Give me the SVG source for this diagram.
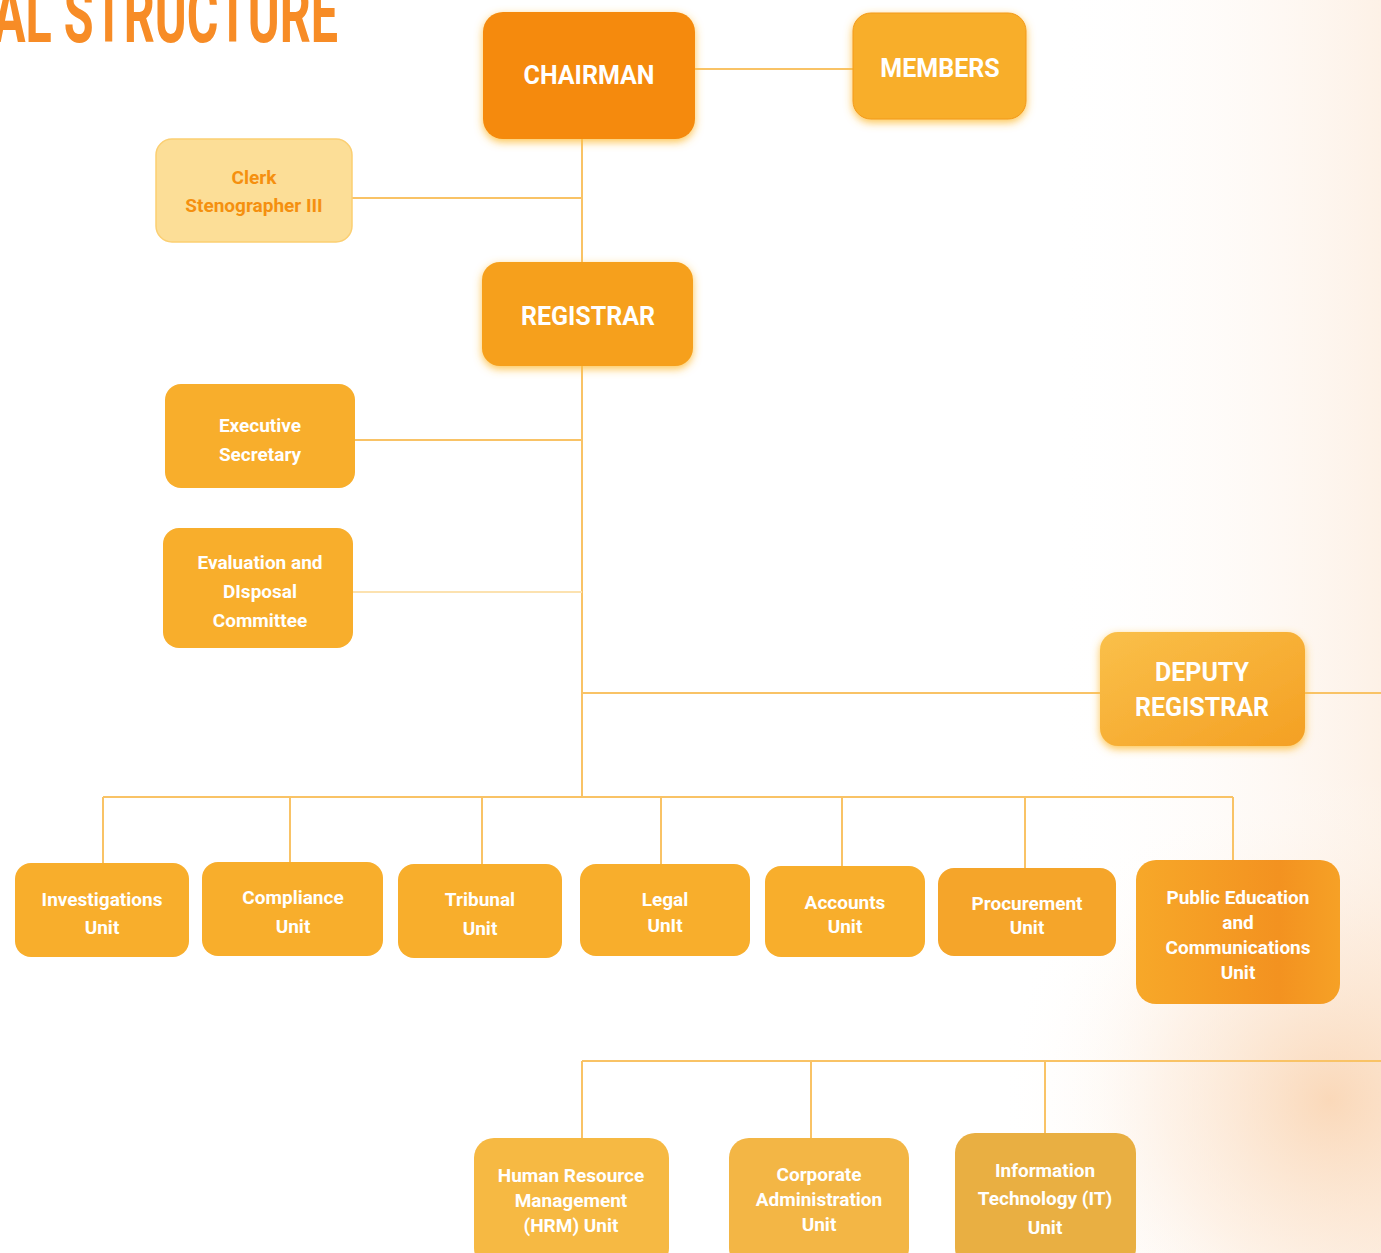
<svg xmlns="http://www.w3.org/2000/svg" width="1381" height="1253" viewBox="0 0 1381 1253">
<defs>
  <radialGradient id="bgA" cx="1330" cy="1100" r="330" gradientUnits="userSpaceOnUse">
    <stop offset="0" stop-color="#F9CFA8" stop-opacity="0.75"/>
    <stop offset="0.5" stop-color="#FCE5D0" stop-opacity="0.45"/>
    <stop offset="1" stop-color="#FFFFFF" stop-opacity="0"/>
  </radialGradient>
  <linearGradient id="bgB" x1="1050" y1="0" x2="1381" y2="0" gradientUnits="userSpaceOnUse">
    <stop offset="0" stop-color="#FFFFFF" stop-opacity="0"/>
    <stop offset="1" stop-color="#FCEBDC" stop-opacity="0.7"/>
  </linearGradient>
  <linearGradient id="depGrad" x1="0" y1="0" x2="1" y2="1">
    <stop offset="0" stop-color="#FAC04A"/>
    <stop offset="1" stop-color="#F4A023"/>
  </linearGradient>
  <linearGradient id="pubGrad" x1="0" y1="0" x2="1" y2="0">
    <stop offset="0" stop-color="#F7A829"/>
    <stop offset="0.7" stop-color="#F39220"/>
    <stop offset="1" stop-color="#F6A126"/>
  </linearGradient>
  <filter id="glow" x="-20%" y="-20%" width="140%" height="150%">
    <feGaussianBlur in="SourceAlpha" stdDeviation="4"/>
    <feOffset dx="0" dy="3" result="b"/>
    <feFlood flood-color="#FDBE3C" flood-opacity="0.9"/>
    <feComposite in2="b" operator="in" result="g"/>
    <feMerge><feMergeNode in="g"/><feMergeNode in="SourceGraphic"/></feMerge>
  </filter>
  <style>
    .ln { stroke:#F9C366; stroke-width:2; fill:none; }
    .lnf { stroke:#FCE2B0; stroke-width:2; fill:none; }
    .box { fill:#F8AE2C; }
    .t { font-family:"Liberation Sans Narrow","Roboto","Liberation Sans",sans-serif; font-weight:bold; fill:#FFFFFF; text-anchor:middle; }
    .big { font-size:25px; }
    .sm { font-size:19px; }
  </style>
</defs>

<rect x="0" y="0" width="1381" height="1253" fill="#FFFFFF"/>
<rect x="1050" y="0" width="331" height="1253" fill="url(#bgB)"/>
<rect x="900" y="760" width="481" height="493" fill="url(#bgA)"/>

<text x="338" y="42" textLength="345" lengthAdjust="spacingAndGlyphs" text-anchor="end" font-family="Roboto, 'Liberation Sans', sans-serif" font-weight="bold" font-size="80" fill="#F78C26">AL STRUCTURE</text>

<g id="connectors">
  <line class="ln" x1="695" y1="69" x2="853" y2="69"/>
  <line class="ln" x1="582" y1="139" x2="582" y2="262"/>
  <line class="ln" x1="352" y1="198" x2="582" y2="198"/>
  <line class="ln" x1="582" y1="366" x2="582" y2="797"/>
  <line class="ln" x1="355" y1="440" x2="582" y2="440"/>
  <line class="lnf" x1="353" y1="592" x2="582" y2="592"/>
  <line class="ln" x1="582" y1="693" x2="1100" y2="693"/>
  <line class="ln" x1="1305" y1="693" x2="1381" y2="693"/>
  <line class="ln" x1="103" y1="797" x2="1233" y2="797"/>
  <line class="ln" x1="103" y1="797" x2="103" y2="864"/>
  <line class="ln" x1="290" y1="797" x2="290" y2="862"/>
  <line class="ln" x1="482" y1="797" x2="482" y2="864"/>
  <line class="ln" x1="661" y1="797" x2="661" y2="865"/>
  <line class="ln" x1="842" y1="797" x2="842" y2="867"/>
  <line class="ln" x1="1025" y1="797" x2="1025" y2="868"/>
  <line class="ln" x1="1233" y1="797" x2="1233" y2="861"/>
  <line class="ln" x1="582" y1="1061" x2="1381" y2="1061"/>
  <line class="ln" x1="582" y1="1061" x2="582" y2="1138"/>
  <line class="ln" x1="811" y1="1061" x2="811" y2="1138"/>
  <line class="ln" x1="1045" y1="1061" x2="1045" y2="1133"/>
</g>

<g id="chairman">
  <rect x="483" y="12" width="212" height="127" rx="20" fill="#F58A07" filter="url(#glow)"/>
  <text class="t big" x="589" y="84">CHAIRMAN</text>
</g>
<g id="members">
  <rect x="853" y="13" width="173" height="106" rx="18" fill="#F8AE2C" stroke="#F39A1A" stroke-width="1" filter="url(#glow)"/>
  <text class="t big" x="940" y="77">MEMBERS</text>
</g>
<g id="clerk">
  <rect x="156" y="139" width="196" height="103" rx="16" fill="#FCDE97" stroke="#FBCF72" stroke-width="1.5"/>
  <text class="t sm" x="254" y="184" style="fill:#F5900F">Clerk</text>
  <text class="t sm" x="254" y="212" style="fill:#F5900F">Stenographer III</text>
</g>
<g id="registrar">
  <rect x="482" y="262" width="211" height="104" rx="18" fill="#F6A01A" filter="url(#glow)"/>
  <text class="t big" x="588" y="325">REGISTRAR</text>
</g>
<g id="executive-secretary">
  <rect x="165" y="384" width="190" height="104" rx="16" class="box"/>
  <text class="t sm" x="260" y="432">Executive</text>
  <text class="t sm" x="260" y="461">Secretary</text>
</g>
<g id="evaluation-committee">
  <rect x="163" y="528" width="190" height="120" rx="16" class="box"/>
  <text class="t sm" x="260" y="569">Evaluation and</text>
  <text class="t sm" x="260" y="598">DIsposal</text>
  <text class="t sm" x="260" y="627">Committee</text>
</g>
<g id="deputy-registrar">
  <rect x="1100" y="632" width="205" height="114" rx="18" fill="url(#depGrad)" filter="url(#glow)"/>
  <text class="t big" x="1202" y="681">DEPUTY</text>
  <text class="t big" x="1202" y="716">REGISTRAR</text>
</g>

<g id="investigations">
  <rect x="15" y="863" width="174" height="94" rx="16" class="box"/>
  <text class="t sm" x="102" y="906">Investigations</text>
  <text class="t sm" x="102" y="934">Unit</text>
</g>
<g id="compliance">
  <rect x="202" y="862" width="181" height="94" rx="16" class="box"/>
  <text class="t sm" x="293" y="904">Compliance</text>
  <text class="t sm" x="293" y="933">Unit</text>
</g>
<g id="tribunal">
  <rect x="398" y="864" width="164" height="94" rx="16" class="box"/>
  <text class="t sm" x="480" y="906">Tribunal</text>
  <text class="t sm" x="480" y="935">Unit</text>
</g>
<g id="legal">
  <rect x="580" y="864" width="170" height="92" rx="16" class="box"/>
  <text class="t sm" x="665" y="906">Legal</text>
  <text class="t sm" x="665" y="932">UnIt</text>
</g>
<g id="accounts">
  <rect x="765" y="866" width="160" height="91" rx="16" class="box"/>
  <text class="t sm" x="845" y="909">Accounts</text>
  <text class="t sm" x="845" y="933">Unit</text>
</g>
<g id="procurement">
  <rect x="938" y="868" width="178" height="88" rx="16" fill="#F5A52A"/>
  <text class="t sm" x="1027" y="910">Procurement</text>
  <text class="t sm" x="1027" y="934">Unit</text>
</g>
<g id="public-education">
  <rect x="1136" y="860" width="204" height="144" rx="20" fill="url(#pubGrad)"/>
  <text class="t sm" x="1238" y="904">Public Education</text>
  <text class="t sm" x="1238" y="929">and</text>
  <text class="t sm" x="1238" y="954">Communications</text>
  <text class="t sm" x="1238" y="979">Unit</text>
</g>

<g id="hrm">
  <rect x="474" y="1138" width="195" height="130" rx="20" fill="#F6B943"/>
  <text class="t sm" x="571" y="1182">Human Resource</text>
  <text class="t sm" x="571" y="1207">Management</text>
  <text class="t sm" x="571" y="1232">(HRM) Unit</text>
</g>
<g id="corporate-admin">
  <rect x="729" y="1138" width="180" height="130" rx="20" fill="#F3B645"/>
  <text class="t sm" x="819" y="1181">Corporate</text>
  <text class="t sm" x="819" y="1206">Administration</text>
  <text class="t sm" x="819" y="1231">Unit</text>
</g>
<g id="it-unit">
  <rect x="955" y="1133" width="181" height="135" rx="20" fill="#E9AF42"/>
  <text class="t sm" x="1045" y="1177">Information</text>
  <text class="t sm" x="1045" y="1205">Technology (IT)</text>
  <text class="t sm" x="1045" y="1234">Unit</text>
</g>
</svg>
